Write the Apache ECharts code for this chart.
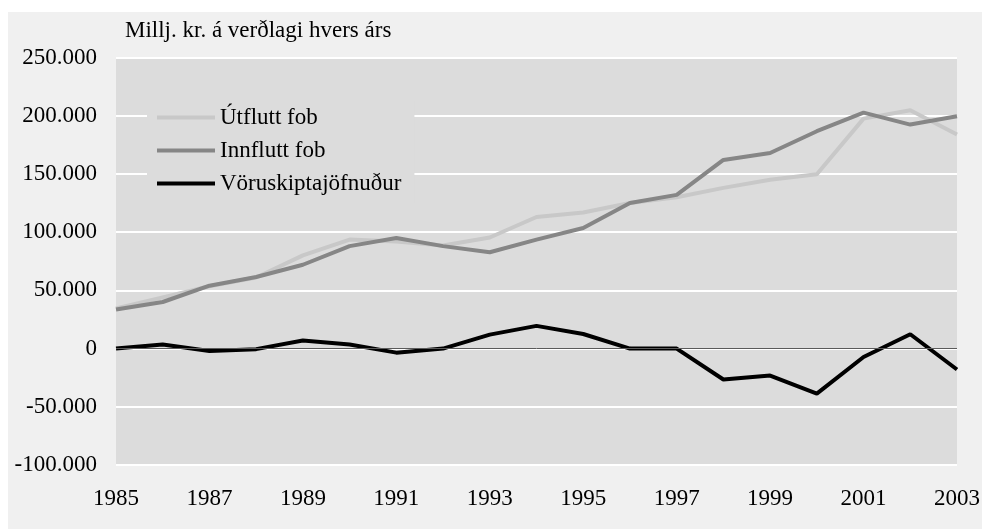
<!DOCTYPE html>
<html>
<head>
<meta charset="utf-8">
<script src="https://cdn.jsdelivr.net/npm/echarts@6/dist/echarts.min.js"></script>
<style>
html,body{margin:0;padding:0;background:#fff;}
#c{width:983px;height:529px;}
</style>
</head>
<body>
<div id="c"></div>
<script>
const years = ['1985','1986','1987','1988','1989','1990','1991','1992','1993','1994','1995','1996','1997','1998','1999','2000','2001','2002','2003'];
const exportsFob = [34500, 44000, 53500, 61000, 80000, 93600, 92000, 88500, 95400, 113000, 116800, 125000, 130000, 138000, 145000, 149700, 197500, 204700, 183800];
const importsFob = [33500, 40000, 54000, 61500, 72000, 88000, 95000, 88000, 82700, 93600, 103600, 125000, 132000, 162000, 168000, 186700, 202700, 192400, 199500];
const tradeBalance = [0, 3500, -2000, -500, 7000, 3500, -3500, 0, 12000, 19500, 12500, 0, 0, -26600, -23200, -38700, -7200, 12300, -18000];
const seriesNames = ['Útflutt fob', 'Innflutt fob', 'Vöruskiptajöfnuður'];
const unitTitle = 'Millj. kr. á verðlagi hvers árs';

const FONT = 'Liberation Serif';
function fmt(v){
  if (v === 0) return '0';
  const s = Math.abs(v).toString().replace(/\B(?=(\d{3})+(?!\d))/g, '.');
  return (v < 0 ? '-' : '') + s;
}
const chart = echarts.init(document.getElementById('c'));
chart.setOption({
  animation: false,
  backgroundColor: '#ffffff',
  graphic: [
    { type: 'rect', z: -10, silent: true, shape: { x: 8, y: 12, width: 974, height: 517 }, style: { fill: '#f0f0f0' } },
    { type: 'text', left: 125, top: 19, style: { text: unitTitle, font: '23px "' + FONT + '"', fill: '#000' } }
  ],
  grid: { left: 116, right: 22, top: 57.5, bottom: 64, show: true, backgroundColor: '#dcdcdc', borderWidth: 0 },
  legend: {
    orient: 'vertical', left: 147, top: 101,
    padding: [5, 13, 8, 10],
    backgroundColor: '#dcdcdc',
    icon: 'rect',
    itemWidth: 58, itemHeight: 4, itemGap: 10,
    textStyle: { fontFamily: FONT, fontSize: 23, color: '#000' },
    data: seriesNames
  },
  xAxis: {
    type: 'category', data: years, boundaryGap: false,
    axisLine: { show: false }, axisTick: { show: false },
    axisLabel: { interval: 1, margin: 22, fontFamily: FONT, fontSize: 23, color: '#000' },
    splitLine: { show: false }
  },
  yAxis: {
    type: 'value', min: -100000, max: 250000, interval: 50000,
    axisLine: { show: false }, axisTick: { show: false },
    axisLabel: { margin: 19, fontFamily: FONT, fontSize: 23, color: '#000', formatter: fmt },
    splitLine: { lineStyle: { color: '#ffffff', width: 2 } }
  },
  series: [
    { name: seriesNames[0], type: 'line', data: exportsFob, symbol: 'none', lineStyle: { color: '#c8c8c8', width: 4 }, itemStyle: { color: '#c8c8c8' },
      markLine: { silent: true, symbol: 'none', label: { show: false }, lineStyle: { color: '#5a5a5a', width: 1, type: 'solid' }, data: [{ yAxis: 0 }] } },
    { name: seriesNames[1], type: 'line', data: importsFob, symbol: 'none', lineStyle: { color: '#868686', width: 4 }, itemStyle: { color: '#868686' } },
    { name: seriesNames[2], type: 'line', data: tradeBalance, symbol: 'none', lineStyle: { color: '#000000', width: 4 }, itemStyle: { color: '#000000' } }
  ]
});
</script>
</body>
</html>
